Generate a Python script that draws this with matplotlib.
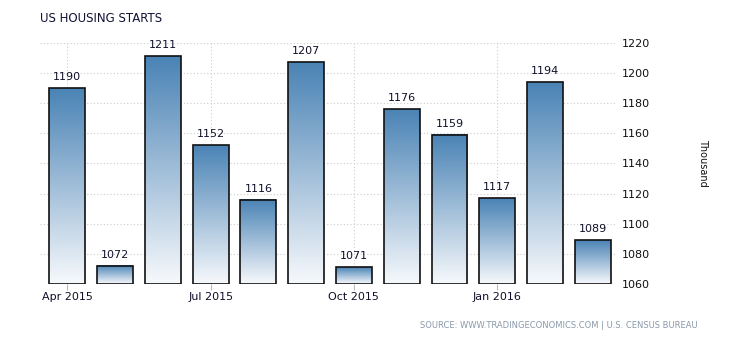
import numpy as np
import matplotlib
matplotlib.use("Agg")
import matplotlib.pyplot as plt
from matplotlib.colors import LinearSegmentedColormap

# data
months = ["Apr 2015", "May 2015", "Jun 2015", "Jul 2015", "Aug 2015", "Sep 2015",
          "Oct 2015", "Nov 2015", "Dec 2015", "Jan 2016", "Feb 2016", "Mar 2016"]
starts = [1190, 1072, 1211, 1152, 1116, 1207, 1071, 1176, 1159, 1117, 1194, 1089]
tick_pos = [0, 3, 6, 9]
tick_labels = ["Apr 2015", "Jul 2015", "Oct 2015", "Jan 2016"]
y_ticks = [1060, 1080, 1100, 1120, 1140, 1160, 1180, 1200, 1220]

fig = plt.figure(figsize=(7.3, 3.4), dpi=100)
ax = fig.add_axes([0.055, 0.165, 0.787, 0.709])

base = 1060
width = 0.75
cmap = LinearSegmentedColormap.from_list("grad", ["#f7f9fc", "#4a83b5"])
grad = np.linspace(0, 1, 256).reshape(-1, 1)

for i, v in enumerate(starts):
    x0 = i - width / 2
    ax.imshow(grad, extent=[x0, x0 + width, base, v], origin="lower",
              cmap=cmap, aspect="auto", zorder=2)
    ax.bar(i, v - base, bottom=base, width=width, fill=False,
           edgecolor="#111111", linewidth=1.2, joinstyle="miter", zorder=3)
    ax.text(i, v + 4, str(v), ha="center", va="bottom", fontsize=8, color="#10102a")

ax.set_xlim(-0.57, 11.46)
ax.set_ylim(1060, 1220)
ax.set_yticks(y_ticks)
ax.yaxis.tick_right()
ax.tick_params(axis="y", length=0, labelsize=8, pad=5, labelcolor="#111111")
ax.set_xticks(tick_pos)
ax.set_xticklabels(tick_labels)
ax.tick_params(axis="x", length=4, color="#bbbbbb", labelsize=8, labelcolor="#10102a", pad=2)

ax.grid(True, color="#cccccc", linestyle=(0, (1, 2)), linewidth=0.8, zorder=0)
ax.set_axisbelow(True)
for s in ax.spines.values():
    s.set_visible(False)

fig.text(0.055, 0.945, "US HOUSING STARTS", fontsize=8.5, color="#111133", ha="left", va="center")
fig.text(0.963, 0.52, "Thousand", rotation=-90, fontsize=7, color="#111111", ha="center", va="center")
fig.text(0.955, 0.044, "SOURCE: WWW.TRADINGECONOMICS.COM | U.S. CENSUS BUREAU",
         fontsize=6, color="#8a99aa", ha="right", va="center")

fig.savefig("out.png", dpi=100)
